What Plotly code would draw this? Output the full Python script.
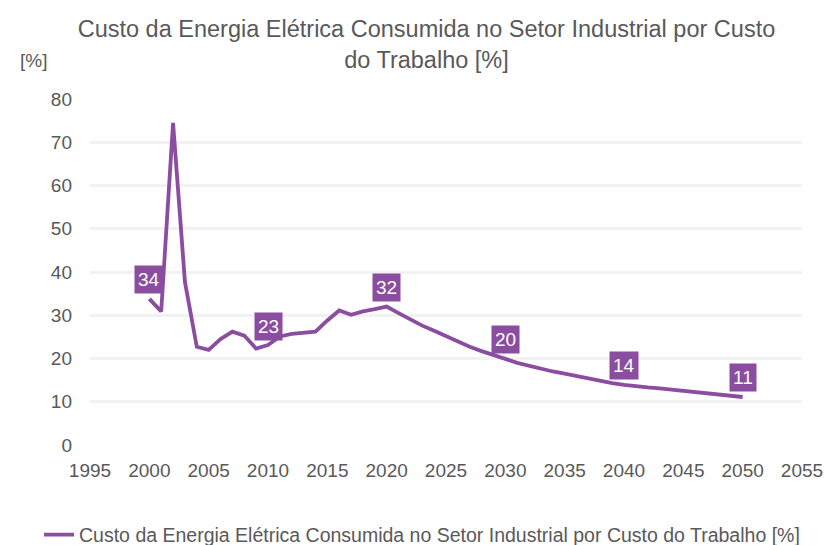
import plotly.graph_objects as go

years = list(range(2000, 2051))
values = [33.8, 30.9, 74.5, 37.7, 22.7, 22.0, 24.5, 26.2, 25.3, 22.3,
          23.1, 25.1, 25.7, 26.0, 26.2, 28.8, 31.1, 30.1, 30.9, 31.4,
          32.0, 30.5, 29.0, 27.6, 26.4, 25.1, 24.0, 22.7, 21.7, 20.7,
          19.9, 19.0, 18.3, 17.6, 17.0, 16.5, 15.9, 15.4, 14.8, 14.3,
          13.9, 13.5, 13.3, 13.1, 12.8, 12.6, 12.4, 12.1, 11.8, 11.5,
          11.1]
label_years = [2000, 2010, 2020, 2030, 2040, 2050]
x_ticks = list(range(1995, 2056, 5))
y_ticks = list(range(0, 81, 10))
series_name = "Custo da Energia Elétrica Consumida no Setor Industrial por Custo do Trabalho [%]"
title_text = "Custo da Energia Elétrica Consumida no Setor Industrial por Custo<br>do Trabalho [%]"

color = "#8B4DA0"
font = "Liberation Sans, Arial, sans-serif"
grey = "#595959"

fig = go.Figure()
fig.add_trace(go.Scatter(x=years, y=values, mode="lines", name=series_name,
                         line=dict(color=color, width=3.8)))

for yr in label_years:
    v = values[years.index(yr)]
    fig.add_annotation(x=yr, y=v, text=str(round(v)), showarrow=False,
                       yshift=19, bgcolor=color, borderpad=3,
                       font=dict(family=font, size=19, color="white"))

fig.add_annotation(text="[%]", showarrow=False, xref="paper", yref="paper",
                   x=-0.1011, y=1.1127, xanchor="left", yanchor="middle",
                   font=dict(family=font, size=19, color=grey))

fig.update_layout(
    width=827, height=545,
    margin=dict(l=90, r=25, t=99, b=100, autoexpand=False),
    paper_bgcolor="white", plot_bgcolor="white",
    font=dict(family=font, size=19, color=grey),
    title=dict(text=title_text, x=0.5157, xanchor="center",
               y=0.932, yanchor="middle", yref="container",
               font=dict(family=font, size=23.5, color=grey)),
    xaxis=dict(range=[1995, 2055], tickvals=x_ticks, showgrid=False, zeroline=False,
               showline=False, ticks="", ticklabelstandoff=12,
               tickfont=dict(size=19, color=grey)),
    yaxis=dict(range=[0, 80], tickvals=y_ticks, showgrid=True, gridcolor="#F2F2F2",
               gridwidth=2.5, zeroline=False, showline=False, ticks="",
               ticklabelstandoff=17, tickfont=dict(size=19, color=grey)),
    showlegend=True,
    legend=dict(orientation="h", xref="container", x=0.5103, xanchor="center",
                yref="container", y=0.01835, yanchor="middle",
                font=dict(size=19.5, color=grey), itemwidth=30),
)
fig.write_html("out.html", config={"displayModeBar": False},
               post_script="document.body.style.margin='0';document.body.style.overflow='hidden';")
